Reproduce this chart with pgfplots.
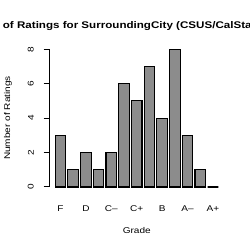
\documentclass[border=0pt]{standalone}
\usepackage{fontspec}
\setmainfont{Liberation Sans}[FakeStretch=1.2]
\usepackage{pgfplots}
\pgfplotsset{compat=1.18}
\definecolor{barfill}{RGB}{140,140,140}
\begin{document}
\begin{tikzpicture}
\path[use as bounding box] (0,0) rectangle (250bp,250bp);
\begin{axis}[
  at={(49.7bp,63bp)}, anchor=south west,
  scale only axis, width=176bp, height=137.7bp,
  xmin=0.15, xmax=14, ymin=0, ymax=8,
  axis lines*=left,
  x axis line style={draw=none},
  y axis line style={line width=1bp},
  ytick={0,2,4,6,8},
  xtick={1,3,5,7,9,11,13},
  xticklabels={F,D,C\textendash,C+,B,A\textendash,A+},
  tick align=outside,
  major tick length=6bp,
  ytick style={line width=1bp,black},
  xtick style={draw=none},
  /pgf/number format/assume math mode=true,
  tick label style={font=\fontsize{8.4}{10}\selectfont},
  yticklabel style={rotate=90, anchor=south, inner sep=0pt},
  yticklabel shift=9.7bp,
  xticklabel style={anchor=base, inner sep=0pt},
  xticklabel shift=18.5bp,
  clip=false,
]
\addplot[ybar, bar width=10.6bp, bar shift=0pt, fill=barfill, draw=black, line width=1.1bp]
coordinates {(1,3) (2,1) (3,2) (4,1) (5,2) (6,6) (7,5) (8,7) (9,4) (10,8) (11,3) (12,1) (13,0)};
\end{axis}
\node[anchor=base west, inner sep=0pt, font=\fontsize{9.7}{11}\selectfont\bfseries] at (2.7bp,221.5bp)
  {\llap{Distribution }of Ratings for SurroundingCity (CSUS/CalState Sacramento)};
\node[anchor=base, inner sep=0pt, font=\fontsize{8.4}{10}\selectfont] at (136.75bp,17bp) {Grade};
\node[anchor=base, inner sep=0pt, rotate=90, font=\fontsize{8.4}{10}\selectfont] at (10bp,132bp) {Number of Ratings};
\end{tikzpicture}
\end{document}
